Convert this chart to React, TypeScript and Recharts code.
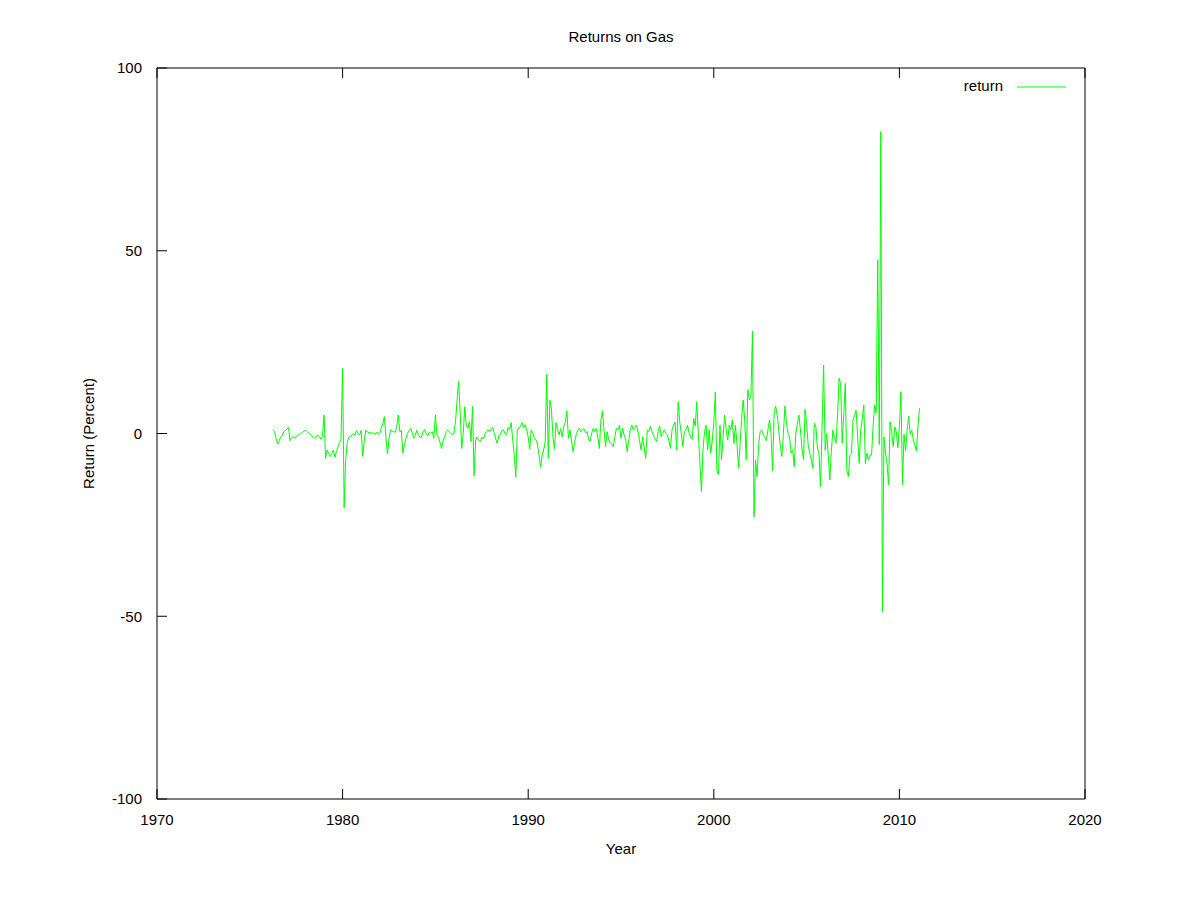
import { LineChart, Line, XAxis, YAxis, Legend } from "recharts";

// monthly returns, first value is April 1976
const START_YEAR = 1976;
const START_MONTH = 4;

const returns1976to1984 = [
  1.0, 0.5, -1.5, -2.9, -2.0, -1.0, -0.5, 0.5, 0.8,
  1.2, 1.7, -2.0, -1.3, -0.8, -1.3, -0.9, -0.4, -0.3, 0.0, 0.3, 0.6,
  1.0, 0.5, 0.2, -0.2, -0.6, -1.0, -1.3, -0.8, -0.4, -0.9, -1.6, -0.9,
  5.1, -6.8, -4.5, -5.4, -6.3, -5.5, -4.5, -6.5, -5.0, -3.6, -2.5, -1.5,
  17.8, -20.4, -7.2, -2.5, -1.0, -0.8, -0.5, 0.0, -0.5, 0.8, 0.0, -0.4,
  0.9, -6.3, -2.0, 0.9, 0.4, 0.2, 0.3, 0.0, 0.2, -0.3, 0.4, -0.2,
  0.0, 1.5, 2.8, 4.6, -1.0, -5.6, -1.5, 1.0, 0.6, 0.5, 0.3, 1.8,
  5.1, 0.5, 0.8, -5.4, -3.0, -1.3, 0.0, 0.8, 1.4, 0.2, -1.3, -0.5,
  0.9, -0.3, -1.0, -1.1, 0.5, 1.1, 0.0, -0.7, 0.3, 0.0, 0.5, -1.3,
];

const returns1985to1994 = [
  5.1, -0.5, -1.0, -2.5, -4.1, -2.0, -0.9, 0.5, 1.0, 0.5, 0.0, -0.4,
  0.2, 3.2, 9.0, 14.2, 6.0, -4.1, 0.0, 7.3, 2.0, 1.5, 3.2, -2.2,
  7.5, -11.6, -1.8, -1.0, -2.0, -2.2, -1.0, -1.5, -0.2, 0.5, 1.0, 0.5,
  1.0, 1.7, 0.2, -1.5, -2.7, -0.5, -0.4, 0.8, 1.0, 0.0, -0.4, 1.7,
  1.0, 3.0, -1.8, -6.0, -12.0, 1.0, 1.5, 2.0, 3.0, 1.5, 2.4, 1.0,
  -1.0, -4.3, 1.0, 0.0, -1.3, -1.8, -2.9, -6.0, -9.1, -6.0, -4.5, -2.2,
  16.3, -6.8, 9.1, 6.9, -0.9, -4.3, 3.0, 1.0, -0.4, 1.4, -1.0, 2.0,
  3.0, 6.2, -1.3, 1.0, -2.0, -5.0, -2.5, -0.4, 0.8, 1.4, 0.5, 1.0,
  1.4, 0.2, 0.5, -1.5, -2.2, 0.0, 1.4, 0.5, 1.4, -1.0, -4.1, 3.7,
  6.2, 1.0, -3.6, 0.5, -1.5, -2.5, -3.0, -3.6, -1.0, 1.4, 1.0, 2.3,
];

const returns1995to2004 = [
  -1.3, 1.4, -0.4, -1.5, -5.0, -2.0, 1.0, 2.3, 1.0, 1.7, 2.3, 0.5,
  -2.0, -4.5, -0.9, -4.0, -6.8, 1.0, 0.5, 2.0, 0.5, -0.5, -1.5, -2.2,
  0.5, 2.0, -0.9, 0.0, 1.0, 0.0, -0.4, -2.0, -4.1, 1.0, 2.3, 3.2,
  -4.5, 8.7, 3.2, 0.0, -3.6, 0.5, 1.0, 2.3, 0.2, -1.0, -1.6, 4.1,
  2.0, 8.7, 0.0, -8.0, -15.9, -4.5, 0.5, 2.3, -4.5, 1.0, -5.4, -2.0,
  3.0, 11.3, -10.0, -11.3, 2.3, -7.2, -1.0, 5.0, 1.0, -1.8, 2.3, 1.0,
  3.7, -2.7, 2.3, -3.0, -9.5, -3.0, 4.1, 9.2, 3.7, -7.2, 12.0, 9.2,
  10.0, 28.0, -22.8, -7.2, -11.8, -3.0, 0.5, 1.0, -0.4, -1.0, -2.0, 1.0,
  3.7, 0.0, -10.2, 5.5, 7.5, 5.0, 0.9, -3.5, -6.3, 0.0, 7.5, 2.8,
  0.0, -0.9, -5.4, -4.5, -9.1, 0.0, 2.5, 5.0, 1.0, -4.0, -7.2, 6.6,
];

const returns2005to2011 = [
  2.8, -3.0, -5.4, -7.0, -9.5, 2.8, 1.8, -4.0, -5.4, -14.6, 2.0, 18.7,
  -4.5, 0.0, -6.0, -12.7, -5.0, 1.0, -1.0, -2.7, 5.0, 15.1, 13.7, -2.7,
  5.0, 13.7, -10.0, -11.8, -6.0, -5.4, 3.7, 5.0, 6.4, -0.9, -8.2, 0.9,
  4.0, 7.8, -8.2, -5.4, -7.2, -5.9, -5.9, 2.0, 7.8, 5.6, 47.5, -3.0,
  82.6, -48.7, -0.9, -5.3, -8.0, -14.1, 3.2, 0.5, -3.6, 1.8, 0.5, -3.9,
  2.0, 11.4, -14.1, -0.2, -4.7, 1.0, 4.8, -0.2, 0.9, -1.8, -3.2, -4.7,
  2.0, 6.9,
];

const yearTicks = [1970, 1980, 1990, 2000, 2010, 2020];
const returnTicks = [-100, -50, 0, 50, 100];

const monthlyReturns = [
  ...returns1976to1984,
  ...returns1985to1994,
  ...returns1995to2004,
  ...returns2005to2011,
];

const data = monthlyReturns.map((ret, i) => ({
  year: START_YEAR + (START_MONTH - 1 + i) / 12,
  ret,
}));

const FONT = "'Liberation Sans', Arial, sans-serif";
const GREEN = "#00ff00";
const tickStyle = { fill: "#000", fontSize: 15, fontFamily: FONT };
const noLabel = () => <g />;

function LegendBox({ payload }: any) {
  const name = payload && payload.length ? payload[0].value : "return";
  return (
    <svg width={140} height={22}>
      <text x={63} y={16} textAnchor="end" fontSize={15} fontFamily={FONT} fill="#000">
        {name}
      </text>
      <line x1={77} y1={12} x2={126} y2={12} stroke={GREEN} strokeWidth={1} />
    </svg>
  );
}

export default function App() {
  return (
    <div style={{ position: "absolute", left: 0, top: 0, background: "#fff" }}>
      <LineChart
        width={1200}
        height={900}
        data={data}
        margin={{ top: 67, right: 114, bottom: 61, left: 0 }}
        style={{ fontFamily: FONT }}
      >
        <XAxis
          dataKey="year"
          type="number"
          domain={[1970, 2020]}
          ticks={yearTicks}
          height={40}
          stroke="#000"
          tickSize={-10}
          tickMargin={25}
          tick={tickStyle}
          label={{ value: "Year", position: "bottom", offset: 4, fill: "#000", fontSize: 15 }}
        />
        {/* mirrored axes close the frame, ticks only */}
        <XAxis
          xAxisId="top"
          orientation="top"
          dataKey="year"
          type="number"
          domain={[1970, 2020]}
          ticks={yearTicks}
          height={1}
          stroke="#000"
          tickSize={-10}
          tick={noLabel}
          label={{ value: "Returns on Gas", position: "top", offset: 25, fill: "#000", fontSize: 15 }}
        />
        <YAxis
          type="number"
          domain={[-100, 100]}
          ticks={returnTicks}
          width={157}
          stroke="#000"
          tickSize={-10}
          tickMargin={25}
          tick={tickStyle}
          label={{
            value: "Return (Percent)",
            angle: -90,
            position: "center",
            dx: 10,
            fill: "#000",
            fontSize: 15,
          }}
        />
        <YAxis
          yAxisId="right"
          orientation="right"
          type="number"
          domain={[-100, 100]}
          ticks={returnTicks}
          width={1}
          stroke="#000"
          tickSize={-10}
          tick={noLabel}
        />
        <Legend
          layout="vertical"
          align="center"
          verticalAlign="middle"
          wrapperStyle={{ left: 940, top: 75, width: 140, height: 22 }}
          content={<LegendBox />}
        />
        <Line
          type="linear"
          dataKey="ret"
          name="return"
          stroke={GREEN}
          strokeWidth={1}
          dot={false}
          activeDot={false}
          isAnimationActive={false}
        />
      </LineChart>
    </div>
  );
}
